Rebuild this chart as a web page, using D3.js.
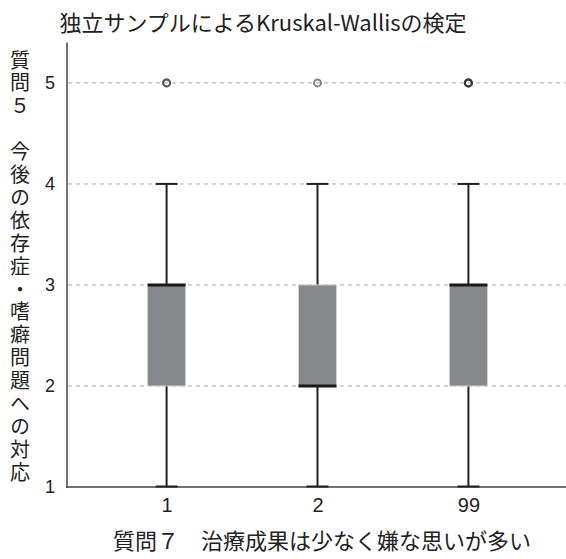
<!DOCTYPE html>
<html><head><meta charset="utf-8">
<script src="https://cdn.jsdelivr.net/npm/d3@7"></script>
<style>
html,body{margin:0;padding:0;background:#fff;}
svg text{font-family:"Noto Sans CJK JP","Noto Sans",sans-serif;fill:#222;}
</style></head>
<body><svg id="c" width="566" height="559"></svg>
<script>
const title = "独立サンプルによるKruskal-Wallisの検定";
const xTitle = "質問７　治療成果は少なく嫌な思いが多い";
const yTitle = "質問５　今後の依存症・嗜癖問題への対応";
const groups = ["1","2","99"];
const whiskerLow = [1,1,1];
const q1 = [2,2,2];
const median = [3,2,3];
const q3 = [3,3,3];
const whiskerHigh = [4,4,4];
const outliers = [[5,5],[5],[5,5,5,5]];
const yTicks = [1,2,3,4,5];

const svg = d3.select("#c");
const x = d3.scalePoint().domain(groups).range([67,568]).padding(0.66);
const y = d3.scaleLinear().domain([1,5.4]).range([487,42.5]);

svg.append("g").selectAll("line").data(yTicks.filter(d=>d>1)).join("line")
  .attr("x1",68).attr("x2",566).attr("y1",d=>y(d)).attr("y2",d=>y(d))
  .attr("stroke","#aaa").attr("stroke-width",1).attr("stroke-dasharray","4,4");

const ya = svg.append("g").attr("transform","translate(67,0)")
  .call(d3.axisLeft(y).tickValues(yTicks).tickSize(0).tickPadding(12).tickFormat(d3.format("d")));
ya.select(".domain").remove();
ya.selectAll("text").attr("font-size",18).style("font-family","Liberation Sans, Arial, sans-serif").attr("fill","#222");
svg.append("line").attr("x1",67).attr("x2",67).attr("y1",y(5.4)).attr("y2",y(1)+1)
  .attr("stroke","#444").attr("stroke-width",1.5);

const xa = svg.append("g").attr("transform",`translate(0,${y(1)})`)
  .call(d3.axisBottom(x).tickSize(0).tickPadding(11));
xa.select(".domain").remove();
xa.selectAll("text").attr("font-size",20).style("font-family","Liberation Sans, Arial, sans-serif").attr("fill","#222");
svg.append("line").attr("x1",66).attr("x2",566).attr("y1",y(1)).attr("y2",y(1))
  .attr("stroke","#444").attr("stroke-width",1.5);

const bw = 38, cw = 22;
const g = svg.append("g").selectAll("g").data(groups).join("g");
g.append("line").attr("x1",d=>x(d)).attr("x2",d=>x(d))
  .attr("y1",(d,i)=>y(whiskerLow[i])).attr("y2",(d,i)=>y(q1[i]))
  .attr("stroke","#222").attr("stroke-width",2);
g.append("line").attr("x1",d=>x(d)).attr("x2",d=>x(d))
  .attr("y1",(d,i)=>y(q3[i])).attr("y2",(d,i)=>y(whiskerHigh[i]))
  .attr("stroke","#222").attr("stroke-width",2);
g.append("line").attr("x1",d=>x(d)-cw/2).attr("x2",d=>x(d)+cw/2)
  .attr("y1",(d,i)=>y(whiskerHigh[i])).attr("y2",(d,i)=>y(whiskerHigh[i]))
  .attr("stroke","#222").attr("stroke-width",2);
g.append("line").attr("x1",d=>x(d)-cw/2).attr("x2",d=>x(d)+cw/2)
  .attr("y1",(d,i)=>y(whiskerLow[i])-0.5).attr("y2",(d,i)=>y(whiskerLow[i])-0.5)
  .attr("stroke","#222").attr("stroke-width",2);
g.append("rect").attr("x",d=>x(d)-bw/2).attr("width",bw)
  .attr("y",(d,i)=>y(q3[i])).attr("height",(d,i)=>y(q1[i])-y(q3[i]))
  .attr("fill","#87888c").attr("stroke","#d0d0d0").attr("stroke-width",1);
g.append("line").attr("x1",d=>x(d)-bw/2).attr("x2",d=>x(d)+bw/2)
  .attr("y1",(d,i)=>y(median[i])).attr("y2",(d,i)=>y(median[i]))
  .attr("stroke","#1a1a1a").attr("stroke-width",3);
g.each(function(d,i){
  d3.select(this).selectAll("circle").data(outliers[i]).join("circle")
    .attr("cx",x(d)).attr("cy",v=>y(v)).attr("r",3.5)
    .attr("fill","none")
    .attr("stroke","#333").attr("stroke-opacity",0.6).attr("stroke-width",2);
});

svg.append("text").attr("x",263).attr("y",31).attr("text-anchor","middle")
  .attr("font-size",22).text(title);
svg.append("text").attr("x",322).attr("y",549).attr("text-anchor","middle")
  .attr("font-size",22).text(xTitle);
svg.append("text").attr("x",20).attr("y",50)
  .style("writing-mode","vertical-rl").style("text-orientation","upright")
  .style("letter-spacing","2.9px")
  .attr("font-size",20).text(yTitle);
</script></body></html>
